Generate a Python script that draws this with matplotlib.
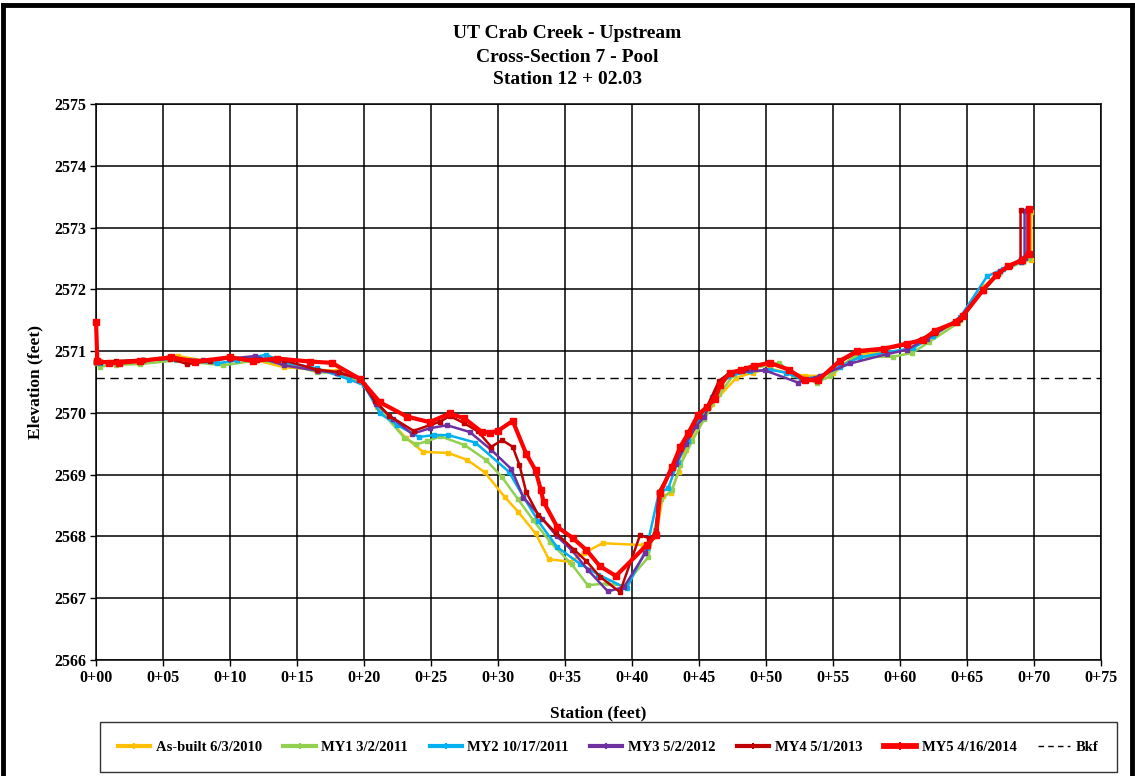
# -*- coding: utf-8 -*-
# cross-section survey plot, UT Crab Creek XS7

import numpy as np
import matplotlib
matplotlib.use('Agg')
import matplotlib.pyplot as plt
from matplotlib.lines import Line2D

# ----------- data (station ft, elevation ft) ---------------
asbuilt_x = [0, 0.3, 1.5, 3.5, 6.1, 8, 10, 12, 14, 16.5, 18, 19.8, 21, 23.1, 24.4, 26.3, 27.7, 29,
             30.5, 31.5, 32.8, 33.8, 35.4, 36.4, 37.8, 40.8, 41.8, 42.3, 42.9, 43.5, 44, 45, 46, 47.8,
             49, 50.3, 51.5, 52.9, 54, 55, 56.8, 59, 60.5, 62, 64.5, 66.3, 67.5, 69, 69.8, 69.8]
asbuilt_y = [2570.85, 2570.82, 2570.83, 2570.86, 2570.92, 2570.85, 2570.88, 2570.85, 2570.74, 2570.7,
             2570.68, 2570.52, 2570.1, 2569.6, 2569.37, 2569.35, 2569.24, 2569.04, 2568.64, 2568.4,
             2568.05, 2567.63, 2567.59, 2567.73, 2567.89, 2567.86, 2568.0, 2568.65, 2568.71, 2569.05,
             2569.4, 2569.85, 2570.15, 2570.57, 2570.65, 2570.72, 2570.65, 2570.6, 2570.6, 2570.65,
             2570.95, 2570.98, 2571.02, 2571.2, 2571.5, 2572.05, 2572.3, 2572.45, 2572.48, 2573.25]

my1_x = [0, 0.3, 1.5, 3.3, 6, 9.5, 12, 14, 16.5, 18, 19.8, 21.2, 23, 23.9, 24.7, 25.7, 27.5, 29.1,
         30.3, 31.5, 32.6, 33.9, 35.5, 36.7, 38.1, 39.4, 41.2, 42.2, 43, 43.6, 44.5, 45.4, 46.5, 47.6,
         49, 51, 52, 53.8, 54.8, 56.5, 59.5, 60.9, 62.2, 64.3, 66.3, 67.5, 69.2, 69.6, 69.6]
my1_y = [2570.8, 2570.75, 2570.78, 2570.79, 2570.85, 2570.77, 2570.85, 2570.8, 2570.66, 2570.64,
         2570.5, 2570.05, 2569.6, 2569.49, 2569.54, 2569.62, 2569.48, 2569.24, 2568.96, 2568.6,
         2568.27, 2567.91, 2567.55, 2567.21, 2567.24, 2567.2, 2567.66, 2568.6, 2568.75, 2569.15,
         2569.55, 2569.9, 2570.3, 2570.62, 2570.72, 2570.81, 2570.62, 2570.49, 2570.6, 2570.9,
         2570.91, 2570.97, 2571.15, 2571.45, 2572.0, 2572.28, 2572.45, 2572.5, 2573.25]

my2_x = [0, 0.3, 1.5, 3.5, 6, 9, 10.5, 12.7, 14, 16.5, 18.9, 20, 21.2, 22.5, 24.1, 25.2, 26.3, 28.3,
         30.8, 31.9, 33, 34.4, 36.1, 37.5, 39.6, 41.1, 42, 42.7, 43.4, 44.2, 45, 46, 47.2, 48.8, 50.3,
         51.5, 52.6, 54, 55.5, 57, 59, 61, 62.5, 64.5, 66.5, 67.7, 69.1, 69.5, 69.5]
my2_y = [2570.82, 2570.8, 2570.83, 2570.85, 2570.88, 2570.8, 2570.85, 2570.94, 2570.82, 2570.72,
         2570.54, 2570.45, 2569.99, 2569.8, 2569.61, 2569.64, 2569.64, 2569.52, 2569.05, 2568.64,
         2568.25, 2567.83, 2567.56, 2567.38, 2567.16, 2567.81, 2568.7, 2568.78, 2569.2, 2569.55,
         2569.9, 2570.25, 2570.6, 2570.67, 2570.7, 2570.65, 2570.55, 2570.58, 2570.75, 2570.9,
         2570.98, 2571.05, 2571.25, 2571.55, 2572.21, 2572.33, 2572.5, 2572.55, 2573.28]

my3_x = [0, 0.3, 1.5, 3.5, 6, 8, 10, 11.9, 14, 16.6, 18, 19.7, 20.9, 22.2, 23.6, 24.9, 26.2, 27.9,
         29.5, 31, 31.9, 33.3, 34.4, 35.5, 36.7, 38.2, 39.4, 41, 41.8, 42, 42.8, 43.3, 44, 44.8, 45.4,
         46.5, 47.5, 49.9, 52.4, 54, 56.3, 59, 60.5, 62, 64.3, 66.2, 67.5, 69, 69.3, 69.3]
my3_y = [2570.82, 2570.82, 2570.83, 2570.85, 2570.88, 2570.85, 2570.88, 2570.92, 2570.77, 2570.68,
         2570.65, 2570.55, 2570.15, 2569.9, 2569.66, 2569.75, 2569.8, 2569.69, 2569.4, 2569.09,
         2568.63, 2568.29, 2568.0, 2567.78, 2567.46, 2567.11, 2567.18, 2567.73, 2568.1, 2568.7,
         2569.02, 2569.18, 2569.5, 2569.79, 2569.94, 2570.47, 2570.65, 2570.69, 2570.49, 2570.6,
         2570.8, 2570.95, 2571.02, 2571.2, 2571.5, 2572.0, 2572.3, 2572.45, 2572.5, 2573.26]

my4_x = [0, 0.3, 1.5, 3.5, 5.5, 6.8, 8.5, 10, 12, 14, 16.5, 18.1, 19.7, 20.8, 21.9, 23.7, 25.7, 26.4,
         27.5, 28.5, 29.5, 30.3, 31.1, 31.6, 32.1, 33, 34.3, 35.7, 36.6, 37.6, 39.1, 40.6, 41.3, 41.8,
         42, 43, 43.6, 44.2, 45, 45.6, 46.5, 47.3, 48.5, 50.3, 51.7, 52.8, 53.8, 55.5, 56.8, 58.8,
         60.5, 62.6, 64.5, 66.2, 67.3, 68.2, 69, 69.0]
my4_y = [2570.83, 2570.83, 2570.84, 2570.86, 2570.88, 2570.79, 2570.84, 2570.89, 2570.86, 2570.85,
         2570.7, 2570.66, 2570.55, 2570.2, 2569.95, 2569.71, 2569.86, 2569.95, 2569.83, 2569.7,
         2569.45, 2569.56, 2569.45, 2569.16, 2568.72, 2568.35, 2568.06, 2567.78, 2567.6, 2567.35,
         2567.1, 2568.02, 2567.97, 2568.05, 2568.72, 2569.1, 2569.42, 2569.65, 2569.95, 2570.1,
         2570.52, 2570.65, 2570.72, 2570.8, 2570.7, 2570.55, 2570.52, 2570.82, 2570.98, 2571.03,
         2571.1, 2571.3, 2571.52, 2571.98, 2572.25, 2572.38, 2572.47, 2573.28]

my5_x = [0, 0.1, 1, 1.7, 3.3, 5.6, 7.4, 10, 11.7, 13.5, 16, 17.6, 19.7, 21.2, 23.2, 24.9, 26.4, 27.5,
         28.8, 29.4, 30.0, 31.1, 32.1, 32.8, 33.2, 33.4, 34.4, 35.6, 36.6, 37.6, 38.8, 41.1, 41.8,
         42.1, 43, 43.6, 44.2, 44.9, 45.6, 46.2, 46.6, 47.3, 48.1, 49.1, 50.3, 51.7, 52.9, 53.9, 55.5,
         56.8, 58.8, 60.5, 61.7, 62.6, 64.2, 64.7, 66.2, 67.2, 68.1, 69.1, 69.6, 69.6]
my5_y = [2571.47, 2570.84, 2570.81, 2570.81, 2570.84, 2570.9, 2570.83, 2570.9, 2570.84, 2570.88,
         2570.83, 2570.81, 2570.55, 2570.17, 2569.94, 2569.85, 2569.99, 2569.91, 2569.69, 2569.68,
         2569.71, 2569.87, 2569.34, 2569.07, 2568.75, 2568.56, 2568.16, 2567.97, 2567.78, 2567.52,
         2567.36, 2567.86, 2568.02, 2568.7, 2569.13, 2569.45, 2569.67, 2569.96, 2570.1, 2570.23,
         2570.45, 2570.65, 2570.69, 2570.76, 2570.81, 2570.7, 2570.53, 2570.53, 2570.84, 2571.0,
         2571.04, 2571.12, 2571.18, 2571.33, 2571.47, 2571.57, 2571.99, 2572.23, 2572.38, 2572.47,
         2572.57, 2573.3]

bkf_elev = 2570.57

series_names = ['As-built 6/3/2010', 'MY1 3/2/2011', 'MY2 10/17/2011',
                'MY3 5/2/2012', 'MY4 5/1/2013', 'MY5 4/16/2014']
series_colors = ['#FFC000', '#92D050', '#00B0F0', '#7030A0', '#C00000', '#FF0000']
title_lines = ['UT Crab Creek - Upstream', 'Cross-Section 7 - Pool', 'Station 12 + 02.03']
x_ticks = list(range(0, 80, 5))
x_tick_labels = [f'0+{t:02d}' for t in x_ticks]
y_ticks = list(range(2566, 2576))

# ----------- plot ---------------
plt.rcParams['font.family'] = ['Liberation Serif', 'DejaVu Serif']
plt.rcParams['font.weight'] = 'bold'

fig = plt.figure(figsize=(11.35, 7.76), dpi=100)
ax = fig.add_axes([0.0846, 0.1495, 0.8854, 0.7165])

all_x = [asbuilt_x, my1_x, my2_x, my3_x, my4_x, my5_x]
all_y = [asbuilt_y, my1_y, my2_y, my3_y, my4_y, my5_y]

ax.axhline(bkf_elev, color='black', lw=1.0, ls=(0, (6, 4)), zorder=2)

handles = []
for i, (xs, ys) in enumerate(zip(all_x, all_y)):
    if i == 5:
        lw, ms = 3.0, 4.7
    else:
        lw, ms = 1.8, 3.3
    ax.plot(xs, ys, color=series_colors[i], lw=lw, marker='s', ms=ms,
            mec=series_colors[i], zorder=3 + i, clip_on=False)
    handles.append(Line2D([], [], color=series_colors[i], lw=lw + 1.2, marker='|',
                          ms=ms + 1, mew=1.5, mec=series_colors[i], label=series_names[i]))
handles.append(Line2D([], [], color='black', lw=1.0, ls=(0, (4, 3)), label='Bkf'))

ax.set_xlim(0, 75)
ax.set_ylim(2566, 2575)
ax.set_xticks(x_ticks)
ax.set_xticklabels(x_tick_labels)
ax.set_yticks(y_ticks)
ax.grid(True, color='black', lw=1.1, zorder=0)
ax.set_axisbelow(True)
for sp in ax.spines.values():
    sp.set_color('black')
    sp.set_linewidth(1.1)
ax.tick_params(direction='out', length=4, width=1, labelsize=11.5, colors='black', pad=3)
for lab in ax.get_xticklabels() + ax.get_yticklabels():
    lab.set_fontweight('bold')

ax.set_xlabel('Station (feet)', fontsize=12.5, fontweight='bold', labelpad=14)
ax.set_ylabel('Elevation (feet)', fontsize=12.5, fontweight='bold', labelpad=8)

# title, three centred lines
for k, line in enumerate(title_lines):
    fig.text(0.5, 1 - (34 + 23 * k) / 776, line, ha='center', va='center',
             fontsize=14, fontweight='bold')

leg = fig.legend(handles=handles, loc='lower left', ncol=7, mode='expand',
                 bbox_to_anchor=(0.088, 0.005, 0.896, 0.059),
                 frameon=True, fancybox=False, edgecolor='black', handlelength=2.2,
                 handletextpad=0.4, borderaxespad=0.0, borderpad=1.25,
                 prop={'weight': 'bold', 'size': 10.5})
leg.get_frame().set_linewidth(1.0)

# outer chart border (left/top/right)
fig.add_artist(Line2D([0.003, 0.003], [0.0, 0.994], transform=fig.transFigure, color='black', lw=3.5))
fig.add_artist(Line2D([0.003, 0.997], [0.994, 0.994], transform=fig.transFigure, color='black', lw=3.5))
fig.add_artist(Line2D([0.997, 0.997], [0.0, 0.994], transform=fig.transFigure, color='black', lw=3.5))

fig.savefig('out.png', dpi=100)
